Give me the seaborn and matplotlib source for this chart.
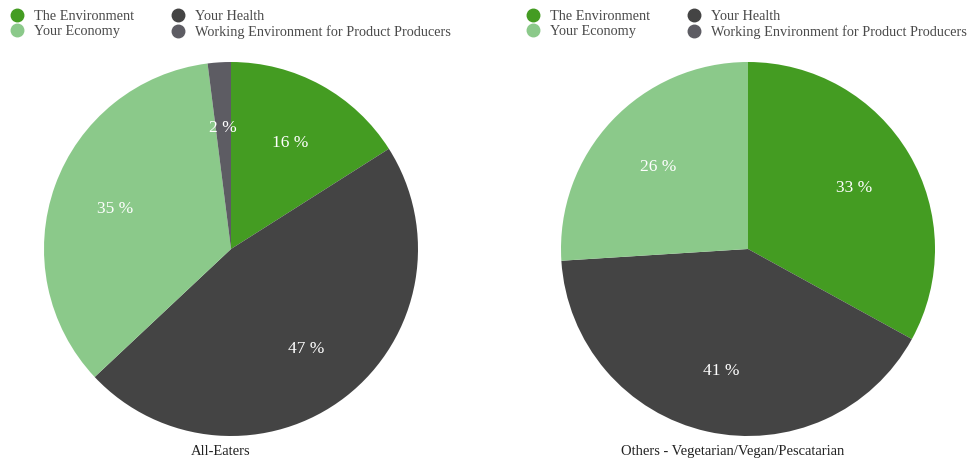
import matplotlib
matplotlib.use("Agg")
import matplotlib.pyplot as plt
from matplotlib.lines import Line2D
import seaborn as sns

categories = ["The Environment", "Your Health", "Your Economy",
              "Working Environment for Product Producers"]
all_eaters = [16, 47, 35, 2]
others = [33, 41, 26, 0]
titles = ["All-Eaters", "Others - Vegetarian/Vegan/Pescatarian"]
colors = ["#449c22", "#444444", "#8bc98a", "#5d5c63"]

sns.set_theme(style="white")
plt.rcParams["font.family"] = ["Liberation Serif", "DejaVu Serif"]

W, H = 971, 461
fig = plt.figure(figsize=(W / 100, H / 100), dpi=100)
sns.set_palette(colors)

R = 187
centers = [(231, 249), (748, 249)]
title_x = [221, 733]
legend_x = [4, 520]

for values, title, (cx, cy), tx, lx in zip([all_eaters, others], titles,
                                            centers, title_x, legend_x):
    ax = fig.add_axes([(cx - R) / W, (H - cy - R) / H, 2 * R / W, 2 * R / H])
    labels_txt = [f"{v} %" if v > 0 else "" for v in values]
    ax.pie(values, colors=colors, startangle=90, counterclock=False,
           labels=labels_txt, labeldistance=0.66,
           wedgeprops=dict(linewidth=0),
           textprops=dict(color="white", fontsize=12.5,
                          ha="center", va="center_baseline"))
    ax.set_xlim(-1, 1)
    ax.set_ylim(-1, 1)
    ax.set_aspect("equal")
    ax.axis("off")
    fig.text(tx / W, 1 - 451 / H, title, ha="center", va="center",
             fontsize=10.5, color="#222222")

    handles = [Line2D([0], [0], marker="o", linestyle="", markersize=9,
                      markerfacecolor=c, markeredgecolor=c) for c in
               [colors[0], colors[2], colors[1], colors[3]]]
    names = [categories[0], categories[2], categories[1], categories[3]]
    fig.legend(handles, names, loc="upper left",
               bbox_to_anchor=(lx / W, 1 - 4 / H), ncol=2, frameon=False,
               fontsize=10.3, handletextpad=0.7, columnspacing=2.55,
               labelspacing=0.18, handlelength=1.0, borderaxespad=0,
               labelcolor="#4a4a4a")

fig.savefig("out.png", dpi=100)
